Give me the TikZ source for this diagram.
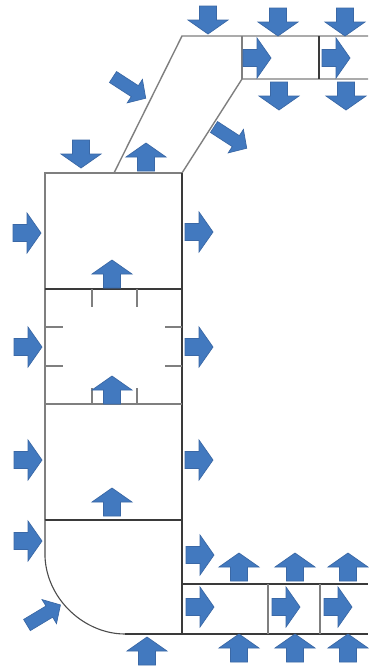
\documentclass[tikz,border=0pt]{standalone}
\definecolor{arrowblue}{HTML}{4279BF}
\definecolor{arrowedge}{HTML}{3A68A6}
\definecolor{wallgrey}{HTML}{7F7F7F}
\definecolor{walldark}{HTML}{3A3A3A}
\tikzset{
  blockarrow/.style={fill=arrowblue,draw=arrowedge,line width=0.7pt,line join=miter},
  wall/.style={draw=wallgrey,line width=1.4pt},
  darkwall/.style={draw=walldark,line width=1.6pt},
  thinwall/.style={draw=wallgrey,line width=1.2pt},
  curvewall/.style={draw=black!70,line width=1.1pt}
}
% tail-centre x, tail-centre y, angle (screen coordinates: y grows downward)
\newcommand{\flowarrow}[3]{%
  \fill[blockarrow,shift={(#1,#2)},rotate=-#3]
    (0,-8.5) -- (14,-8.5) -- (14,-20) -- (28,0) -- (14,20) -- (14,8.5) -- (0,8.5) -- cycle;}
\newcommand{\longarrow}[3]{%
  \fill[blockarrow,shift={(#1,#2)},rotate=-#3]
    (0,-6.5) -- (26,-6.5) -- (26,-14) -- (39,0) -- (26,14) -- (26,6.5) -- (0,6.5) -- cycle;}
\begin{document}
\begin{tikzpicture}[x=1pt,y=-1pt]
\useasboundingbox[fill=white] (0,0) rectangle (368,670);
% upper duct
\draw[wall] (114,173) -- (182,36) -- (368,36);
\draw[wall] (182,173) -- (242,79) -- (368,79);
\draw[thinwall] (242,36) -- (242,79);
\draw[darkwall] (319,36) -- (319,79);
% main column
\draw[wall] (45,520) -- (45,173) -- (182,173);
\draw[darkwall] (182,173) -- (182,634);
\draw[darkwall] (45,289) -- (182,289);
\draw[wall] (45,404) -- (182,404);
\draw[darkwall] (45,520) -- (182,520);
\draw[curvewall] (45,520) -- (45,557) .. controls (47,600) and (85,634) .. (125,634);
% lower duct
\draw[darkwall] (125,634) -- (368,634);
\draw[darkwall] (182,584) -- (368,584);
\draw[thinwall] (268,584) -- (268,634);
\draw[thinwall] (320,584) -- (320,634);
% ticks
\foreach \tx in {92,137} {
  \draw[thinwall] (\tx,289) -- (\tx,307);
  \draw[thinwall] (\tx,388) -- (\tx,404);
}
\foreach \ty in {327,366} {
  \draw[thinwall] (45,\ty) -- (63,\ty);
  \draw[thinwall] (165,\ty) -- (182,\ty);
}
% rightward arrows
\flowarrow{13}{233}{0}
\flowarrow{14}{347}{0}
\flowarrow{14}{460}{0}
\flowarrow{14}{541}{0}
\flowarrow{185}{232}{0}
\flowarrow{185}{347}{0}
\flowarrow{185}{460}{0}
\flowarrow{186}{555}{0}
\flowarrow{186}{607}{0}
\flowarrow{272}{607}{0}
\flowarrow{324}{607}{0}
\flowarrow{243}{58}{0}
\flowarrow{322}{58}{0}
% downward arrows
\flowarrow{208}{6}{90}
\flowarrow{278}{8}{90}
\flowarrow{345}{8}{90}
\flowarrow{279}{82}{90}
\flowarrow{346}{82}{90}
\flowarrow{81}{140}{90}
% upward arrows
\flowarrow{146}{171}{-90}
\flowarrow{112}{288}{-90}
\flowarrow{112}{404}{-90}
\flowarrow{112}{516}{-90}
\flowarrow{239}{581}{-90}
\flowarrow{295}{581}{-90}
\flowarrow{348}{581}{-90}
\flowarrow{239}{662}{-90}
\flowarrow{295}{662}{-90}
\flowarrow{348}{662}{-90}
\flowarrow{147}{665}{-90}
% diagonal arrows
\longarrow{113}{77}{33}
\longarrow{214}{127}{33}
\longarrow{27}{625}{-31}
\end{tikzpicture}
\end{document}
